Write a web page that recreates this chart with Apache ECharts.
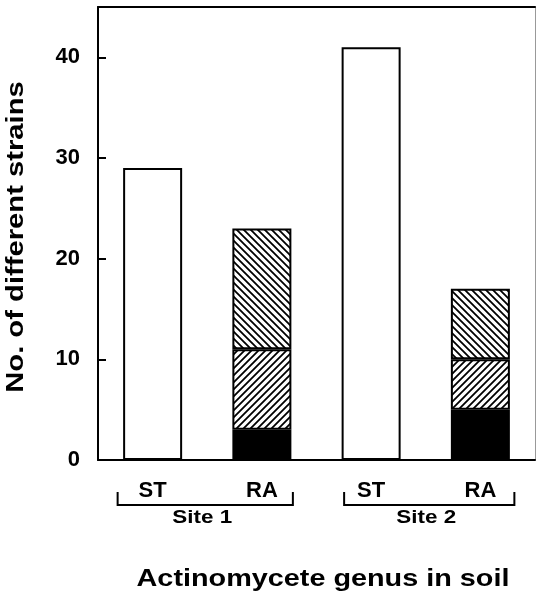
<!DOCTYPE html>
<html><head><meta charset="utf-8">
<script src="https://cdn.jsdelivr.net/npm/echarts@6/dist/echarts.min.js"></script>
<style>html,body{margin:0;padding:0;background:#fff}#c{width:536px;height:593px}</style>
</head><body><div id="c"></div>
<script>
const categories = ['ST', 'RA', 'ST', 'RA'];
const sites = ['Site 1', 'Site 2'];
const openBar = [29, null, 41, null];
const solidPart = [null, 3, null, 5];
const lowerHatch = [null, 8, null, 5];
const upperHatch = [null, 12, null, 7];
const yName = 'No. of different strains';
const xName = 'Actinomycete genus in soil';

function hatch(dir) {
  const s = 7;
  const c = document.createElement('canvas');
  c.width = s; c.height = s;
  const g = c.getContext('2d');
  g.fillStyle = '#fff'; g.fillRect(0, 0, s, s);
  g.strokeStyle = '#000'; g.lineWidth = 1.8;
  g.beginPath();
  if (dir === '/') {
    g.moveTo(-1, s + 1); g.lineTo(s + 1, -1);
    g.moveTo(-1, 1); g.lineTo(1, -1);
    g.moveTo(s - 1, s + 1); g.lineTo(s + 1, s - 1);
  } else {
    g.moveTo(-1, -1); g.lineTo(s + 1, s + 1);
    g.moveTo(s - 1, -1); g.lineTo(s + 1, 1);
    g.moveTo(-1, s - 1); g.lineTo(1, s + 1);
  }
  g.stroke();
  return c;
}

const font = '"Liberation Sans", Arial, sans-serif';
const chart = echarts.init(document.getElementById('c'));
const border = { borderColor: '#000', borderWidth: 2 };
chart.setOption({
  animation: false,
  backgroundColor: '#fff',
  grid: { left: 98, right: 1, top: 7, bottom: 133, containLabel: false },
  xAxis: [{
    type: 'category', data: categories,
    axisLine: { onZero: false, lineStyle: { color: '#000', width: 2 } },
    axisTick: { show: false },
    axisLabel: { color: '#000', fontFamily: font, fontWeight: 'bold', fontSize: 22, margin: 20 }
  }, {
    type: 'category', data: categories, position: 'top',
    axisLine: { show: true, onZero: false, lineStyle: { color: '#000', width: 2 } },
    axisTick: { show: false }, axisLabel: { show: false }
  }],
  yAxis: [{
    type: 'value', min: 0, max: 45, interval: 10,
    axisLine: { show: true, lineStyle: { color: '#000', width: 2 } },
    axisTick: { show: true, inside: true, length: 8, lineStyle: { color: '#000', width: 2 } },
    axisLabel: { color: '#000', fontFamily: font, fontWeight: 'bold', fontSize: 22, margin: 18, showMaxLabel: false },
    splitLine: { show: false }
  }, {
    type: 'value', min: 0, max: 45, position: 'right',
    axisLine: { show: true, onZero: false, lineStyle: { color: '#999', width: 1 } },
    axisTick: { show: false }, axisLabel: { show: false }, splitLine: { show: false }
  }],
  series: [
    { type: 'bar', stack: 'a', barWidth: 59, data: openBar, itemStyle: Object.assign({ color: '#fff' }, border) },
    { type: 'bar', stack: 'a', barWidth: 59, data: solidPart, itemStyle: Object.assign({ color: '#000' }, border) },
    { type: 'bar', stack: 'a', barWidth: 59, data: lowerHatch, itemStyle: Object.assign({ color: { image: hatch('/'), repeat: 'repeat' } }, border) },
    { type: 'bar', stack: 'a', barWidth: 59, data: upperHatch, itemStyle: Object.assign({ color: { image: hatch('\\'), repeat: 'repeat' } }, border) }
  ]
});

// site brackets, site names and axis titles
const bracketPad = [[-35, 31], [-27, 34]];
const els = [];
const y0 = chart.convertToPixel({ yAxisIndex: 0 }, 0);
sites.forEach((name, i) => {
  const x0 = chart.convertToPixel({ xAxisIndex: 0 }, 2 * i);
  const x1 = chart.convertToPixel({ xAxisIndex: 0 }, 2 * i + 1);
  const l = x0 + bracketPad[i][0], r = x1 + bracketPad[i][1], by = y0 + 45;
  els.push({ type: 'polyline', shape: { points: [[l, by - 13], [l, by], [r, by], [r, by - 13]] },
    style: { stroke: '#000', lineWidth: 2, fill: null } });
  els.push({ type: 'text', x: (l + r) / 2 - 3, y: y0 + 58, scaleX: 1.18,
    style: { text: name, fill: '#000', font: 'bold 19px ' + font, align: 'center', verticalAlign: 'middle' } });
});
els.push({ type: 'text', x: 323, y: 579, scaleX: 1.2,
  style: { text: xName, fill: '#000', font: 'bold 24px ' + font, align: 'center', verticalAlign: 'middle' } });
els.push({ type: 'text', x: 17, y: 237, rotation: Math.PI / 2, scaleX: 1.27,
  style: { text: yName, fill: '#000', font: 'bold 23px ' + font, align: 'center', verticalAlign: 'middle' } });
chart.setOption({ graphic: els });
</script></body></html>
